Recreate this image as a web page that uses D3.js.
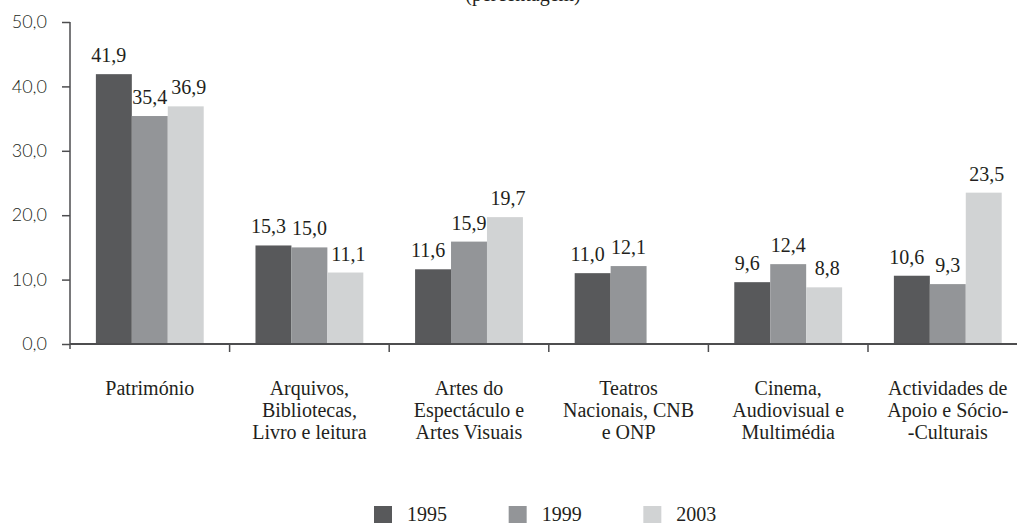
<!DOCTYPE html>
<html>
<head>
<meta charset="utf-8">
<script src="https://cdn.jsdelivr.net/npm/d3@7"></script>
<style>
  html, body { margin: 0; padding: 0; background: #ffffff; }
  svg { display: block; }
</style>
</head>
<body>
<svg id="chart" width="1017" height="524"></svg>
<script>
// ---- data ----
const categories = [
  "Património",
  "Arquivos,\nBibliotecas,\nLivro e leitura",
  "Artes do\nEspectáculo e\nArtes Visuais",
  "Teatros\nNacionais, CNB\ne ONP",
  "Cinema,\nAudiovisual e\nMultimédia",
  "Actividades de\nApoio e Sócio-\n-Culturais"
];
const seriesNames = ["1995", "1999", "2003"];
const values1995 = [41.9, 15.3, 11.6, 11.0, 9.6, 10.6];
const values1999 = [35.4, 15.0, 15.9, 12.1, 12.4, 9.3];
const values2003 = [36.9, 11.1, 19.7, null, 8.8, 23.5];
const yTicks = [0, 10, 20, 30, 40, 50];
const titleText = "(percentagem)";
const colors = ["#58595b", "#939598", "#d1d3d4"];
const labelShift = [-5, 0, 3];

const seriesValues = [values1995, values1999, values2003];

// ---- layout ----
const svg = d3.select("#chart");
const axisX = 70;
const y = d3.scaleLinear().domain([0, 50]).range([344, 22]);
const x0 = d3.scaleBand().domain(categories).range([axisX, 1027.6]).paddingInner(0).paddingOuter(0);
const x1 = d3.scaleBand().domain(seriesNames).range([0, x0.bandwidth()]).paddingInner(0).paddingOuter(0.72);

const serif = "'Liberation Serif', 'Times New Roman', serif";
const sans = "Lato, 'Noto Sans', sans-serif";
const axisColor = "#4d4d4f";
const textColor = "#231f20";

// title (cropped at the top edge, as in the source)
svg.append("text")
  .attr("x", 523).attr("y", 1)
  .attr("text-anchor", "middle")
  .attr("font-family", serif).attr("font-size", 20)
  .attr("fill", textColor)
  .text(titleText);

// bars
const rows = [];
categories.forEach((c, i) => {
  seriesNames.forEach((s, j) => {
    const v = seriesValues[j][i];
    if (v !== null && v !== undefined) rows.push({ c, s, j, v });
  });
});

const g = svg.append("g");
g.selectAll("rect.bar").data(rows).join("rect")
  .attr("class", "bar")
  .attr("x", d => x0(d.c) + x1(d.s))
  .attr("y", d => y(d.v))
  .attr("width", x1.bandwidth())
  .attr("height", d => y(0) - y(d.v))
  .attr("fill", d => colors[d.j]);

// value labels
const fmt = v => d3.format(".1f")(v).replace(".", ",");
g.selectAll("text.val").data(rows).join("text")
  .attr("class", "val")
  .attr("x", d => x0(d.c) + x1(d.s) + x1.bandwidth() / 2 + labelShift[d.j])
  .attr("y", d => y(d.v) - 12)
  .attr("text-anchor", "middle")
  .attr("font-family", serif).attr("font-size", 20)
  .attr("fill", textColor)
  .text(d => fmt(d.v));

// y axis
const yAxis = d3.axisLeft(y).tickValues(yTicks).tickSize(8).tickSizeOuter(0)
  .tickFormat(v => fmt(v));
const yg = svg.append("g").attr("transform", `translate(${axisX},0)`).call(yAxis);
yg.select(".domain").remove();
yg.selectAll(".tick line").attr("stroke", axisColor).attr("stroke-width", 1.5);
yg.selectAll(".tick text")
  .attr("x", -23)
  .attr("font-family", sans).attr("font-size", 18).attr("font-weight", 300)
  .attr("fill", textColor);
svg.append("line")
  .attr("x1", axisX).attr("x2", axisX)
  .attr("y1", y(50)).attr("y2", y(0) + 5)
  .attr("stroke", axisColor).attr("stroke-width", 1.5);

// x axis
const boundaries = categories.map(c => x0(c)).slice(1);
svg.append("line")
  .attr("x1", axisX).attr("x2", 1027.6)
  .attr("y1", y(0)).attr("y2", y(0))
  .attr("stroke", axisColor).attr("stroke-width", 2);
svg.selectAll("line.xtick").data(boundaries).join("line")
  .attr("class", "xtick")
  .attr("x1", d => d).attr("x2", d => d)
  .attr("y1", y(0)).attr("y2", y(0) + 8)
  .attr("stroke", axisColor).attr("stroke-width", 1.5);

// category labels
const catG = svg.selectAll("text.cat").data(categories).join("text")
  .attr("class", "cat")
  .attr("text-anchor", "middle")
  .attr("font-family", serif).attr("font-size", 20)
  .attr("fill", textColor);
catG.each(function (c) {
  const lines = c.split("\n");
  const t = d3.select(this);
  lines.forEach((ln, k) => {
    t.append("tspan")
      .attr("x", x0(c) + x0.bandwidth() / 2)
      .attr("y", 395 + k * 22)
      .text(ln);
  });
});

// legend
const legendX = d3.scaleBand().domain(seriesNames).range([374, 778]);
const lg = svg.selectAll("g.leg").data(seriesNames).join("g")
  .attr("class", "leg")
  .attr("transform", d => `translate(${legendX(d)},0)`);
lg.append("rect")
  .attr("x", 0).attr("y", 506)
  .attr("width", 18).attr("height", 17)
  .attr("fill", (d, i) => colors[i]);
lg.append("text")
  .attr("x", 33).attr("y", 521)
  .attr("font-family", serif).attr("font-size", 20)
  .attr("fill", textColor)
  .text(d => d);
</script>
</body>
</html>
